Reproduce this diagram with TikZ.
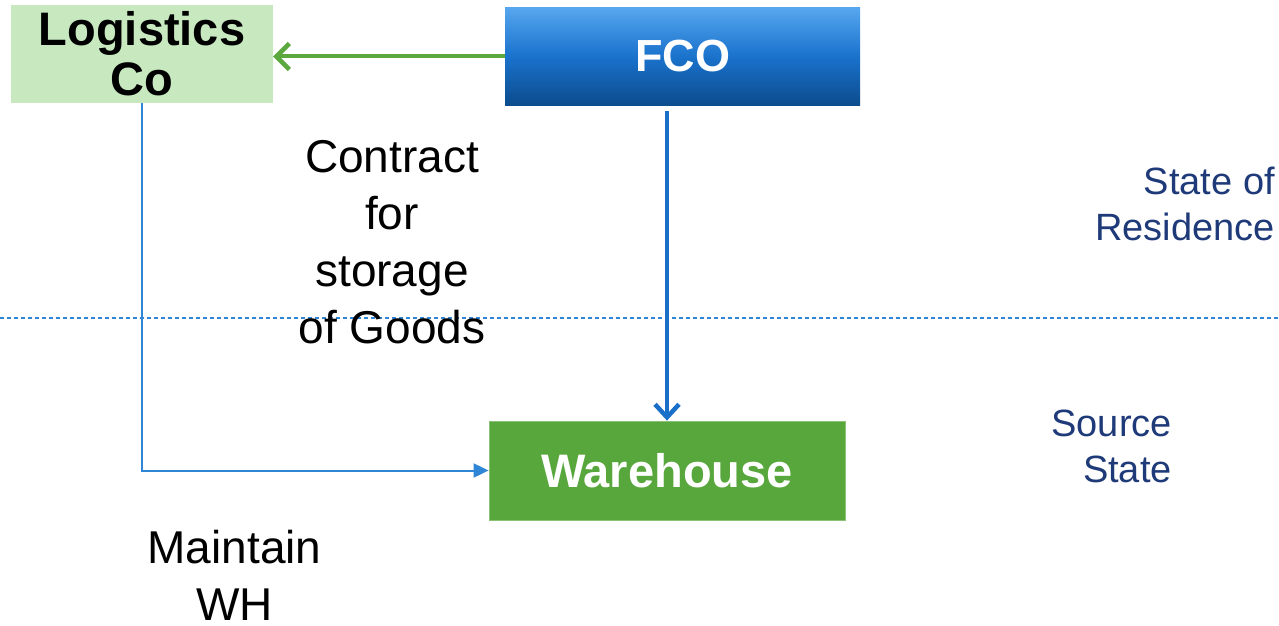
\documentclass[tikz,border=0pt]{standalone}
\usepackage{fontspec}
\setmainfont{Liberation Sans}
\usetikzlibrary{arrows.meta}
\definecolor{lgreen}{HTML}{C8E8C0}
\definecolor{wgreen}{HTML}{58A73D}
\definecolor{agreen}{HTML}{5BA83E}
\definecolor{fcotop}{HTML}{55A6EE}
\definecolor{fcomid}{HTML}{1A72CC}
\definecolor{fcobot}{HTML}{0C4C8E}
\definecolor{ablue}{HTML}{1A70C8}
\definecolor{lblue}{HTML}{2F86D6}
\definecolor{navy}{HTML}{1F3A78}
\tikzset{
  boxbase/.style={rectangle, inner sep=0pt, align=center},
  logbox/.style={boxbase, fill=lgreen, text=black, font=\bfseries\fontsize{47}{50}\selectfont},
  fcobox/.style={boxbase, top color=fcotop, bottom color=fcobot, middle color=fcomid, text=white, font=\bfseries\fontsize{45}{50}\selectfont},
  whbox/.style={boxbase, fill=wgreen, draw=wgreen!70!white, line width=0.8pt, text=white, font=\bfseries\fontsize{47}{50}\selectfont},
  bodytxt/.style={inner sep=0pt, text=black, font=\fontsize{46}{57}\selectfont},
  statetxt/.style={inner sep=0pt, text=navy, font=\fontsize{38}{46}\selectfont, align=right},
  greenarrow/.style={draw=agreen, line width=4pt, -{Straight Barb[length=13pt,width=26pt,line width=4.5pt]}},
  bluearrow/.style={draw=ablue, line width=4pt, -{Straight Barb[length=13pt,width=24pt,line width=4.5pt]}},
  thinarrow/.style={draw=lblue, line width=2pt, -{Triangle[length=15pt,width=14pt]}},
  divider/.style={draw=lblue, line width=1.2pt, dash pattern=on 4pt off 3pt}
}
\begin{document}
\begin{tikzpicture}[x=1pt,y=-1pt]
\useasboundingbox (0,0) rectangle (1279,626);
\node[logbox, minimum width=262pt, minimum height=98pt] (log) at (142,54) {Logistics\\Co};
\node[fcobox, minimum width=355pt, minimum height=97pt] (fco) at (682.5,56.5) {FCO};
\node[whbox, minimum width=356pt, minimum height=99pt] (wh) at (667,470.5) {Warehouse};
\draw[divider] (0,318) -- (1279,318);
\draw[greenarrow] (fco.west) -- (fco.west -| log.east);
\draw[bluearrow, shorten <=6pt] (fco.south -| wh.north) -- (wh.north);
\draw[thinarrow] (log.south) |- (wh.west);
\node[bodytxt, anchor=base, align=center] (contract) at (392,343) {Contract\\for\\storage\\of Goods};
\node[bodytxt, anchor=base, align=center] (maintain) at (234.5,620) {Maintain\\WH};
\node[statetxt, anchor=base east] (residence) at (1275,240) {State of\\Residence};
\node[statetxt, anchor=base east] (source) at (1172,482) {Source\\State};
\end{tikzpicture}
\end{document}
